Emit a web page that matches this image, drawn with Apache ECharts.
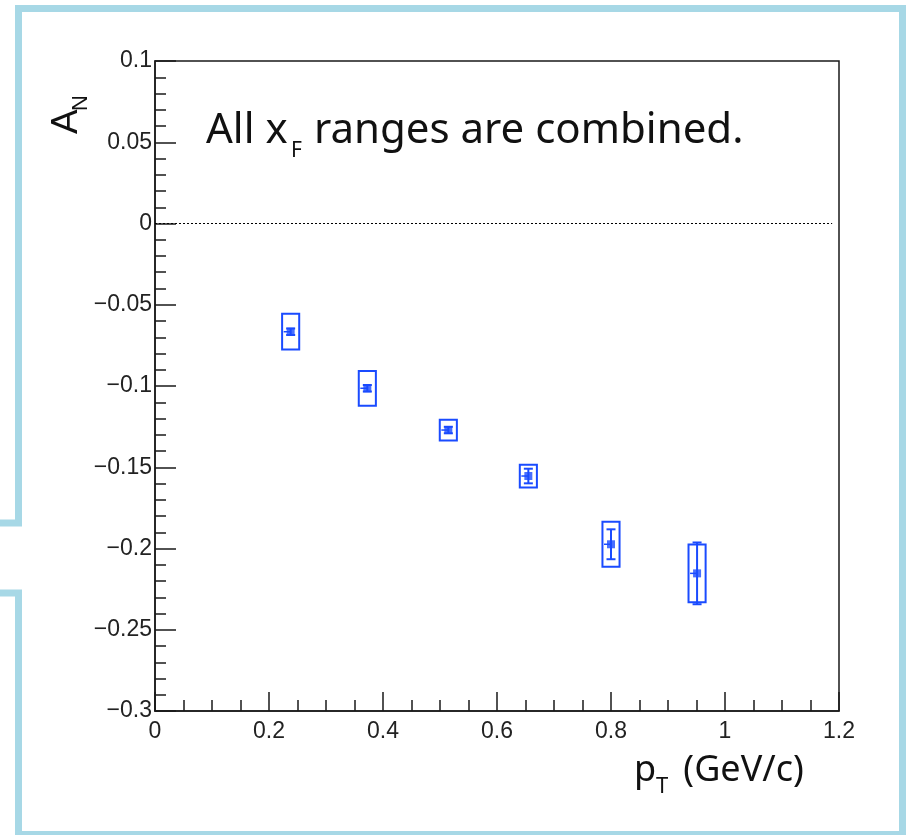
<!DOCTYPE html>
<html>
<head>
<meta charset="utf-8">
<script src="https://cdn.jsdelivr.net/npm/echarts@6/dist/echarts.min.js"></script>
<style>
html,body{margin:0;padding:0;background:#fff;}
#chart{width:906px;height:835px;}
</style>
</head>
<body>
<div id="chart"></div>
<script>
// ---- data ----
var pT      = [0.238, 0.3725, 0.5146, 0.655, 0.800, 0.951];
var AN      = [-0.0666, -0.1014, -0.1271, -0.1554, -0.1974, -0.2153];
var statErr = [0.0020, 0.0020, 0.0020, 0.0045, 0.0092, 0.0190];
var sysErr  = [0.0110, 0.0107, 0.0064, 0.0070, 0.0139, 0.0177];
var boxHalfWidth = [0.015, 0.015, 0.015, 0.015, 0.015, 0.015];
var xTicks = [0, 0.2, 0.4, 0.6, 0.8, 1, 1.2];
var yTicks = [0.1, 0.05, 0, -0.05, -0.1, -0.15, -0.2, -0.25, -0.3];
var zeroLine = [[0, 0], [1.188, 0]];

var BLUE = '#1a4bff';
var AXIS = '#1a1a1a';

var points = pT.map(function (x, i) { return [x, AN[i], statErr[i], sysErr[i], boxHalfWidth[i]]; });

function fmt(v) {
  var r = Math.round(v * 100) / 100;
  return String(r).replace('-', '\u2212');
}

var chart = echarts.init(document.getElementById('chart'), null, {renderer: 'canvas'});

var option = {
  animation: false,
  backgroundColor: '#ffffff',
  grid: {left: 155, top: 61, width: 684, height: 650, show: true, borderColor: AXIS, borderWidth: 1.5, backgroundColor: 'transparent'},
  xAxis: {
    type: 'value', min: xTicks[0], max: xTicks[xTicks.length - 1], interval: 0.2,
    axisLine: {show: true, onZero: false, lineStyle: {color: AXIS, width: 1.5}},
    axisTick: {show: true, inside: true, length: 19, lineStyle: {color: AXIS, width: 1.5}},
    minorTick: {show: true, splitNumber: 4, length: 11, lineStyle: {color: AXIS, width: 1.5}},
    splitLine: {show: false},
    axisLabel: {fontFamily: 'Liberation Sans', fontSize: 23, color: '#222', margin: 9, formatter: fmt}
  },
  yAxis: {
    type: 'value', min: yTicks[yTicks.length - 1], max: yTicks[0], interval: 0.05,
    axisLine: {show: true, onZero: false, lineStyle: {color: AXIS, width: 1.5}},
    axisTick: {show: true, inside: true, length: 21, lineStyle: {color: AXIS, width: 1.5}},
    minorTick: {show: true, splitNumber: 5, length: 11, lineStyle: {color: AXIS, width: 1.5}},
    splitLine: {show: false},
    axisLabel: {fontFamily: 'Liberation Sans', fontSize: 23, color: '#222', margin: 3, formatter: fmt}
  },
  series: [
    {
      type: 'line', data: zeroLine, symbol: 'none', silent: true,
      lineStyle: {color: '#000', width: 1, type: [2, 2]}
    },
    {
      type: 'custom', data: points, silent: true,
      renderItem: function (params, api) {
        var x = api.value(0), y = api.value(1), st = api.value(2), sy = api.value(3), hw = api.value(4);
        var tl = api.coord([x - hw, y + sy]);
        var br = api.coord([x + hw, y - sy]);
        var c = api.coord([x, y]);
        var et = api.coord([x, y + st]);
        var eb = api.coord([x, y - st]);
        var cap = 4.5;
        var ls = {stroke: BLUE, lineWidth: 2, fill: null};
        return {
          type: 'group',
          children: [
            {type: 'rect', shape: {x: tl[0], y: tl[1], width: br[0] - tl[0], height: br[1] - tl[1]}, style: {stroke: BLUE, lineWidth: 2, fill: 'none'}},
            {type: 'line', shape: {x1: c[0], y1: et[1], x2: c[0], y2: eb[1]}, style: ls},
            {type: 'line', shape: {x1: c[0] - cap, y1: et[1], x2: c[0] + cap, y2: et[1]}, style: ls},
            {type: 'line', shape: {x1: c[0] - cap, y1: eb[1], x2: c[0] + cap, y2: eb[1]}, style: ls},
            {type: 'line', shape: {x1: c[0] - 7, y1: c[1], x2: c[0], y2: c[1]}, style: {stroke: BLUE, lineWidth: 1.5}}
          ]
        };
      }
    },
    {
      type: 'scatter', data: points.map(function (p) { return [p[0], p[1]]; }),
      symbol: 'rect', symbolSize: 8, itemStyle: {color: BLUE}, silent: true
    }
  ],
  graphic: [
    // callout frame
    {
      type: 'polyline', silent: true,
      shape: {points: [[0, 523], [18.5, 523], [18.5, 8.5], [902.5, 8.5], [902.5, 834.5], [18.5, 834.5], [18.5, 593], [0, 593]]},
      style: {stroke: '#a7d8e6', lineWidth: 7, fill: null, lineJoin: 'miter'}
    },
    // annotation
    {type: 'text', left: 206, top: 110, style: {text: 'All x', font: '42px "Noto Sans"', fill: '#111'}},
    {type: 'text', left: 291, top: 141, style: {text: 'F', font: '21px "Noto Sans"', fill: '#111'}},
    {type: 'text', left: 303, top: 110, style: {text: ' ranges are combined.', font: '42px "Noto Sans"', fill: '#111'}},
    // x axis title
    {type: 'text', left: 634, top: 753, style: {text: 'p', font: '36px "Noto Sans"', fill: '#111'}},
    {type: 'text', left: 656, top: 776, style: {text: 'T', font: '22px "Noto Sans"', fill: '#111'}},
    {type: 'text', left: 674, top: 753, style: {text: ' (GeV/c)', font: '36px "Noto Sans"', fill: '#111'}},
    // y axis title (rotated)
    {type: 'text', x: 67, y: 134, rotation: Math.PI / 2, style: {text: 'A', font: '37px "Liberation Sans"', fill: '#111', textAlign: 'left', textVerticalAlign: 'middle'}},
    {type: 'text', x: 81, y: 111, rotation: Math.PI / 2, style: {text: 'N', font: '22px "Liberation Sans"', fill: '#111', textAlign: 'left', textVerticalAlign: 'middle'}}
  ]
};
chart.setOption(option);
</script>
</body>
</html>
